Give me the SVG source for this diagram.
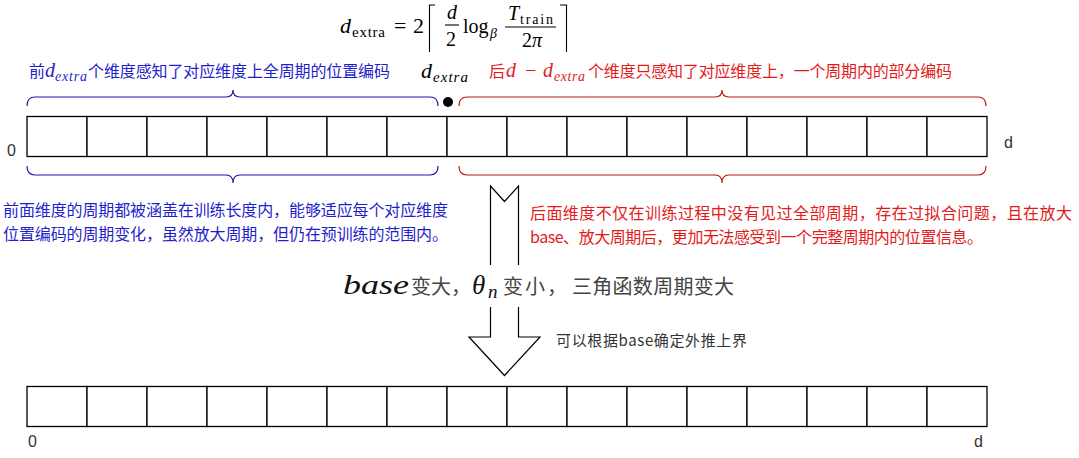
<svg xmlns="http://www.w3.org/2000/svg" width="1079" height="458" viewBox="0 0 1079 458">
<style>
.cell{fill:#fff;stroke:#000;stroke-width:1.3}
.lbl{font-family:"Liberation Sans",Arial,sans-serif;font-size:16px;fill:#333}
.cjk{font-family:"Noto Sans CJK SC",sans-serif}
.blue{fill:#1f1fcc}
.red{fill:#e31b1b}
.mi{font-family:"Liberation Serif","Times New Roman",serif;font-style:italic}
.mr{font-family:"Liberation Serif","Times New Roman",serif}
.bb{fill:none;stroke:#1a1aa6;stroke-width:1.2}
.rb{fill:none;stroke:#c01515;stroke-width:1.2}
.ml{stroke:#000;stroke-width:1.1;fill:none}
</style>
<rect width="1079" height="458" fill="#fff"/>

<!-- formula -->
<g id="formula" fill="#000">
<text class="mi" x="340" y="33" font-size="22">d</text>
<text class="mr" x="352" y="37" font-size="15" textLength="33" lengthAdjust="spacing">extra</text>
<text class="mr" x="394" y="33" font-size="22">=</text>
<text class="mr" x="413" y="33" font-size="22">2</text>
<path class="ml" d="M435,5 H429.5 V52"/>
<text class="mi" x="447" y="19" font-size="20">d</text>
<line class="ml" x1="445" y1="25" x2="459" y2="25"/>
<text class="mr" x="446" y="46" font-size="20">2</text>
<text class="mr" x="463" y="33" font-size="20">log</text>
<text class="mi" x="490" y="38" font-size="14">β</text>
<text class="mi" x="508" y="20" font-size="20">T</text>
<text class="mr" x="520" y="24" font-size="14" textLength="33" lengthAdjust="spacing">train</text>
<line class="ml" x1="505" y1="27" x2="556" y2="27"/>
<text class="mr" x="522" y="47" font-size="20">2<tspan class="mi">π</tspan></text>
<path class="ml" d="M560,5 H566.5 V52"/>
</g>

<!-- top labels -->
<g id="label-blue-top">
<text class="cjk blue" x="29" y="77" font-size="16">前</text>
<text class="mi blue" x="45" y="77" font-size="20">d</text>
<text class="mi blue" x="55" y="81" font-size="14" textLength="32" lengthAdjust="spacing">extra</text>
<text class="cjk blue" x="88" y="77" font-size="16" textLength="302" lengthAdjust="spacing">个维度感知了对应维度上全周期的位置编码</text>
</g>
<g id="label-dextra">
<text class="mi" x="421" y="78" font-size="22" fill="#000">d</text>
<text class="mi" x="433" y="82" font-size="15" fill="#000" textLength="35" lengthAdjust="spacing">extra</text>
</g>
<g id="label-red-top">
<text class="cjk red" x="489" y="77" font-size="16">后</text>
<text class="mi red" x="506" y="77" font-size="20">d</text>
<text class="mr red" x="525" y="77" font-size="20">−</text>
<text class="mi red" x="543" y="77" font-size="20">d</text>
<text class="mi red" x="554" y="81" font-size="14" textLength="31" lengthAdjust="spacing">extra</text>
<text class="cjk red" x="588" y="77" font-size="16" textLength="364" lengthAdjust="spacing">个维度只感知了对应维度上，一个周期内的部分编码</text>
</g>

<!-- braces -->
<g id="braces">
<path class="bb" d="M27,106 Q27,97 35,97 L226,97 Q233,97 233,90 Q233,97 240,97 L430,97 Q438,97 438,106"/>
<path class="rb" d="M459,106 Q459,97 467,97 L715,97 Q722,97 722,90 Q722,97 729,97 L978,97 Q986,97 986,106"/>
<path class="bb" d="M27,166 Q27,175 35,175 L226,175 Q233,175 233,183 Q233,175 240,175 L430,175 Q438,175 438,166"/>
<path class="rb" d="M459,166 Q459,175 467,175 L715,175 Q722,175 722,183 Q722,175 729,175 L978,175 Q986,175 986,166"/>
</g>
<g id="dot"><circle cx="448" cy="102" r="5" fill="#000"/></g>

<!-- top row -->
<g id="row-top">
<g id="t0"><rect class="cell" x="27" y="116.5" width="60" height="40"/></g>
<g id="t1"><rect class="cell" x="87" y="116.5" width="60" height="40"/></g>
<g id="t2"><rect class="cell" x="147" y="116.5" width="60" height="40"/></g>
<g id="t3"><rect class="cell" x="207" y="116.5" width="60" height="40"/></g>
<g id="t4"><rect class="cell" x="267" y="116.5" width="60" height="40"/></g>
<g id="t5"><rect class="cell" x="327" y="116.5" width="60" height="40"/></g>
<g id="t6"><rect class="cell" x="387" y="116.5" width="60" height="40"/></g>
<g id="t7"><rect class="cell" x="447" y="116.5" width="60" height="40"/></g>
<g id="t8"><rect class="cell" x="507" y="116.5" width="60" height="40"/></g>
<g id="t9"><rect class="cell" x="567" y="116.5" width="60" height="40"/></g>
<g id="t10"><rect class="cell" x="627" y="116.5" width="60" height="40"/></g>
<g id="t11"><rect class="cell" x="687" y="116.5" width="60" height="40"/></g>
<g id="t12"><rect class="cell" x="747" y="116.5" width="60" height="40"/></g>
<g id="t13"><rect class="cell" x="807" y="116.5" width="60" height="40"/></g>
<g id="t14"><rect class="cell" x="867" y="116.5" width="60" height="40"/></g>
<g id="t15"><rect class="cell" x="927" y="116.5" width="60" height="40"/></g>
</g>
<text class="lbl" x="7" y="156">0</text>
<text class="lbl" x="1004" y="148">d</text>

<!-- lower descriptions -->
<g id="desc-blue">
<text class="cjk blue" x="3" y="216" font-size="16" textLength="445" lengthAdjust="spacing">前面维度的周期都被涵盖在训练长度内，能够适应每个对应维度</text>
<text class="cjk blue" x="3" y="240" font-size="16" textLength="445" lengthAdjust="spacing">位置编码的周期变化，虽然放大周期，但仍在预训练的范围内。</text>
</g>
<g id="desc-red">
<text class="cjk red" x="530" y="219" font-size="16" textLength="542" lengthAdjust="spacing">后面维度不仅在训练过程中没有见过全部周期，存在过拟合问题，且在放大</text>
<text class="cjk red" x="530" y="243" font-size="16" textLength="453" lengthAdjust="spacing">base、放大周期后，更加无法感受到一个完整周期内的位置信息。</text>
</g>

<!-- big arrow -->
<g id="connectors">
<path d="M490.5,186 L504.5,201.5 L518.5,186 L518.5,337 L540,337 L504.5,375.5 L469,337 L490.5,337 Z" fill="#fff" stroke="#000" stroke-width="1.2"/>
</g>

<g id="arrow-label">
<rect x="336" y="265" width="404" height="42" fill="#fff"/>
<text class="mi" x="343" y="294" font-size="28" fill="#111" textLength="66" lengthAdjust="spacingAndGlyphs">base</text>
<text class="cjk" x="411" y="294" font-size="20" fill="#444" textLength="60" lengthAdjust="spacing">变大，</text>
<text class="mi" x="472" y="294" font-size="27" fill="#111">θ</text>
<text class="mi" x="488" y="298" font-size="19" fill="#111">n</text>
<text class="cjk" x="503" y="294" font-size="20" fill="#444" textLength="64" lengthAdjust="spacing">变小，</text>
<text class="cjk" x="572" y="294" font-size="20" fill="#444" textLength="162" lengthAdjust="spacing">三角函数周期变大</text>
</g>
<g id="note">
<text class="cjk" x="556" y="346" font-size="15" fill="#333" textLength="191" lengthAdjust="spacing">可以根据base确定外推上界</text>
</g>

<!-- bottom row -->
<g id="row-bottom">
<g id="b0"><rect class="cell" x="27" y="386.5" width="60" height="40"/></g>
<g id="b1"><rect class="cell" x="87" y="386.5" width="60" height="40"/></g>
<g id="b2"><rect class="cell" x="147" y="386.5" width="60" height="40"/></g>
<g id="b3"><rect class="cell" x="207" y="386.5" width="60" height="40"/></g>
<g id="b4"><rect class="cell" x="267" y="386.5" width="60" height="40"/></g>
<g id="b5"><rect class="cell" x="327" y="386.5" width="60" height="40"/></g>
<g id="b6"><rect class="cell" x="387" y="386.5" width="60" height="40"/></g>
<g id="b7"><rect class="cell" x="447" y="386.5" width="60" height="40"/></g>
<g id="b8"><rect class="cell" x="507" y="386.5" width="60" height="40"/></g>
<g id="b9"><rect class="cell" x="567" y="386.5" width="60" height="40"/></g>
<g id="b10"><rect class="cell" x="627" y="386.5" width="60" height="40"/></g>
<g id="b11"><rect class="cell" x="687" y="386.5" width="60" height="40"/></g>
<g id="b12"><rect class="cell" x="747" y="386.5" width="60" height="40"/></g>
<g id="b13"><rect class="cell" x="807" y="386.5" width="60" height="40"/></g>
<g id="b14"><rect class="cell" x="867" y="386.5" width="60" height="40"/></g>
<g id="b15"><rect class="cell" x="927" y="386.5" width="60" height="40"/></g>
</g>
<text class="lbl" x="28" y="447">0</text>
<text class="lbl" x="974" y="447">d</text>
</svg>
